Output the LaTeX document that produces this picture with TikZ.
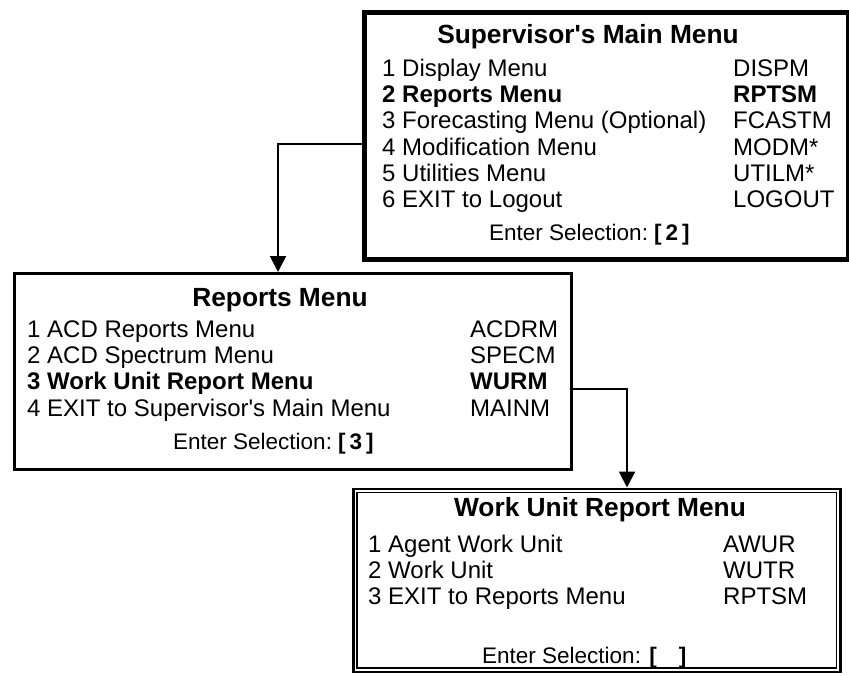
\documentclass[tikz,border=0pt]{standalone}
\usepackage{fontspec}
\setmainfont{Liberation Sans}
\usetikzlibrary{arrows.meta}
\newcommand{\selbox}[1]{\textbf{[\hspace{4pt}#1\hspace{4pt}]}}
\newcommand{\apos}{\textquotesingle}
\begin{document}
\begin{tikzpicture}[x=1pt,y=-1pt,
  menubox/.style={draw,anchor=north west,inner sep=0pt},
  item/.style={anchor=base west,inner sep=0pt,font=\fontsize{24}{24}\selectfont},
  hot/.style={item,font=\fontsize{24}{24}\selectfont\bfseries},
  ttl/.style={anchor=base,inner sep=0pt,font=\fontsize{26.3}{27}\selectfont\bfseries},
  prompt/.style={anchor=base west,inner sep=0pt,font=\fontsize{22.5}{23}\selectfont},
  conn/.style={line width=2pt,-{Triangle[length=16pt,width=16pt]}},
]
\useasboundingbox (0,0) rectangle (849,675);

% Supervisor's main menu
\node[menubox,line width=4.5pt,minimum width=484pt,minimum height=247pt] (b1) at (362,10) {};
\node[ttl] (t1) at (588,43) {Supervisor\apos s Main Menu};
\node[item] (m1) at (382,76) {1 Display Menu};
\node[hot]  (m2) at (382,102) {2 Reports Menu};
\node[item] (m3) at (382,128) {3 Forecasting Menu (Optional)};
\node[item] (m4) at (382,155) {4 Modification Menu};
\node[item] (m5) at (382,181) {5 Utilities Menu};
\node[item] (m6) at (382,207) {6 EXIT to Logout};
\node[item] (c1) at (733,76) {DISPM};
\node[hot]  (c2) at (733,102) {RPTSM};
\node[item] (c3) at (733,128) {FCASTM};
\node[item] (c4) at (733,155) {MODM*};
\node[item] (c5) at (733,181) {UTILM*};
\node[item] (c6) at (733,207) {LOGOUT};
\node[prompt] (p1) at (489,240) {Enter Selection:\hspace{6pt}\selbox{2}};

% Reports menu
\node[menubox,line width=2.5pt,minimum width=557pt,minimum height=196pt] (b2) at (13,272) {};
\node[ttl] (t2) at (280,306) {Reports Menu};
\node[item] (r1) at (27,337) {1 ACD Reports Menu};
\node[item] (r2) at (27,363) {2 ACD Spectrum Menu};
\node[hot]  (r3) at (27,389) {3 Work Unit Report Menu};
\node[item] (r4) at (27,416) {4 EXIT to Supervisor\apos s Main Menu};
\node[item] (d1) at (470,337) {ACDRM};
\node[item] (d2) at (470,363) {SPECM};
\node[hot]  (d3) at (470,389) {WURM};
\node[item] (d4) at (470,416) {MAINM};
\node[prompt] (p2) at (173,449) {Enter Selection:\hspace{6pt}\selbox{3}};

% Work unit report menu (double frame)
\node[menubox,line width=2.5pt,minimum width=487pt,minimum height=183pt] (b3) at (352,487.5) {};
\draw[line width=1.5pt] ([shift={(5,5)}]b3.north west) rectangle ([shift={(-5,-5)}]b3.south east);
\node[ttl] (t3) at (600,516) {Work Unit Report Menu};
\node[item] (w1) at (368,552) {1 Agent Work Unit};
\node[item] (w2) at (368,578) {2 Work Unit};
\node[item] (w3) at (368,604) {3 EXIT to Reports Menu};
\node[item] (e1) at (723,552) {AWUR};
\node[item] (e2) at (723,578) {WUTR};
\node[item] (e3) at (723,604) {RPTSM};
\node[prompt] (p3) at (482,663) {Enter Selection: \textbf{[\hspace{22pt}]}};

% Menu selections
\draw[conn] (b1.west |- 0,144) -| (b2.north -| 278,0);
\draw[conn] (b2.east |- 0,389) -| (b3.north -| 627,0);
\end{tikzpicture}
\end{document}
